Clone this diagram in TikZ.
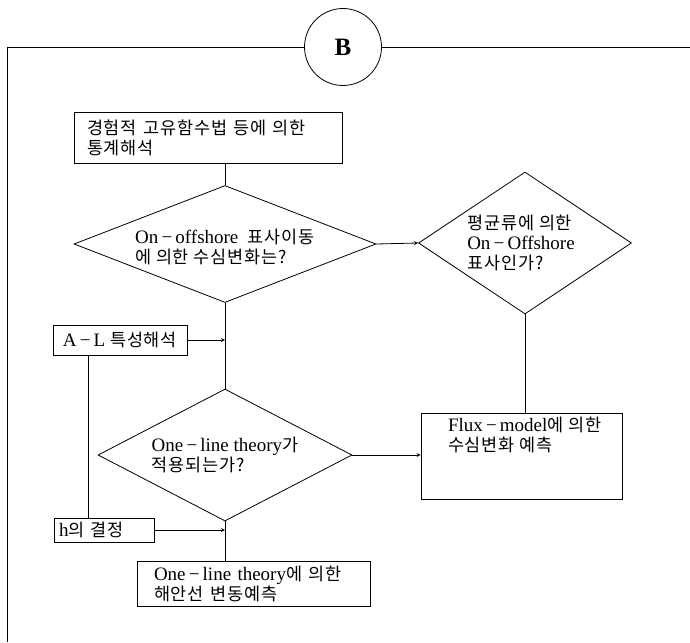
\documentclass[tikz,border=0pt]{standalone}
\usepackage{fontspec}
\setmainfont{Liberation Serif}
\newfontfamily\krfont[Scale=0.92,LetterSpace=5]{Noto Sans CJK KR}
\usetikzlibrary{shapes.geometric,positioning}
\newcommand{\ko}[1]{{\krfont #1}}
\newcommand{\dash}{\,−\,}

\begin{document}
\begin{tikzpicture}[x=1pt,y=-1pt,
        line width=0.8pt,
        font=\fontsize{19}{20}\selectfont,
        box/.style={draw, rectangle, inner sep=0pt},
        decision/.style={draw, diamond, inner sep=0pt},
        txt/.style={align=left, inner sep=0pt},
    ]
        \useasboundingbox (0,0) rectangle (690,642);

        % connector B and frame
        \node [draw, circle,
            minimum size=77pt,
            inner sep=0pt,
            font=\fontsize{25}{25}\selectfont\bfseries,
        ] (conB) at (343,47){B};
        \coordinate (frametl) at (7,47);
        \coordinate (framebl) at (7,642);
        \coordinate (frametr) at (690,47);
        \draw (conB.west) -- (frametl) -- (framebl);
        \draw (conB.east) -- (frametr);

        % statistics
        \node [box,
            minimum width=268pt,
            minimum height=51pt,
            inner xsep=13pt,
            text width=242pt,
            align=left,
        ] (stat) at (208,137.5){\ko{경험적 고유함수법 등에 의한}\\\ko{통계해석}};

        % on-offshore question
        \node [decision,
            minimum width=302pt,
            minimum height=117pt,
        ] (qonoff) at (225,244){};
        \node [txt] (qonofftxt) at ([yshift=-3pt]qonoff.center){On\dash offshore\ \ \ko{표사이동}\\\ko{에 의한 수심변화는?}};

        % mean current question
        \node [decision,
            minimum width=213pt,
            minimum height=142pt,
        ] (qmean) at (525,243){};
        \node [txt] (qmeantxt) at ([xshift=-4pt]qmean.center){\ko{평균류에 의한}\\On\dash Offshore\\\ko{표사인가?}};

        % A-L analysis
        \node [box,
            minimum width=134pt,
            minimum height=30pt,
        ] (al) at (120,340){A\dash L \ko{특성해석}};

        % one-line question
        \node [decision,
            minimum width=254pt,
            minimum height=132pt,
        ] (qline) at (225,455){};
        \node [txt] (qlinetxt) at (qline){One\dash line theory\ko{가}\\\ko{적용되는가?}};

        % flux model
        \node [box,
            minimum width=201pt,
            minimum height=86pt,
        ] (flux) at (521.5,456){};
        \node [txt, below right=4pt and 27pt of flux.north west] (fluxtxt)
            {Flux\dash model\ko{에 의한}\\\ko{수심변화 예측}};

        % h
        \node [box,
            minimum width=100pt,
            minimum height=24pt,
            inner xsep=5pt,
            text width=90pt,
            align=left,
        ] (hdet) at (104,530){h\ko{의 결정}};

        % shoreline prediction
        \node [box,
            minimum width=233pt,
            minimum height=45pt,
            inner xsep=17pt,
            text width=199pt,
            align=left,
        ] (shore) at (253.5,583.5){One\dash line theory\ko{에 의한}\\\ko{해안선 변동예측}};

        \draw (stat.south -| qonoff.north) -- (qonoff.north);
        \draw[-stealth] (qonoff.east) -- (qmean.west);
        \draw (qmean.south) -- (qmean.south |- flux.north);
        \draw (qonoff.south) -- (qline.north);
        \draw[-stealth] (al.east) -- (al.east -| qonoff.south);
        \draw ([xshift=-32pt]al.south) -- ([xshift=-32pt]al.south |- hdet.north);
        \draw[-stealth] (qline.east) -- (qline.east -| flux.west);
        \draw (qline.south) -- (qline.south |- shore.north);
        \draw[-stealth] (hdet.east) -- (hdet.east -| qline.south);
\end{tikzpicture}
\end{document}
